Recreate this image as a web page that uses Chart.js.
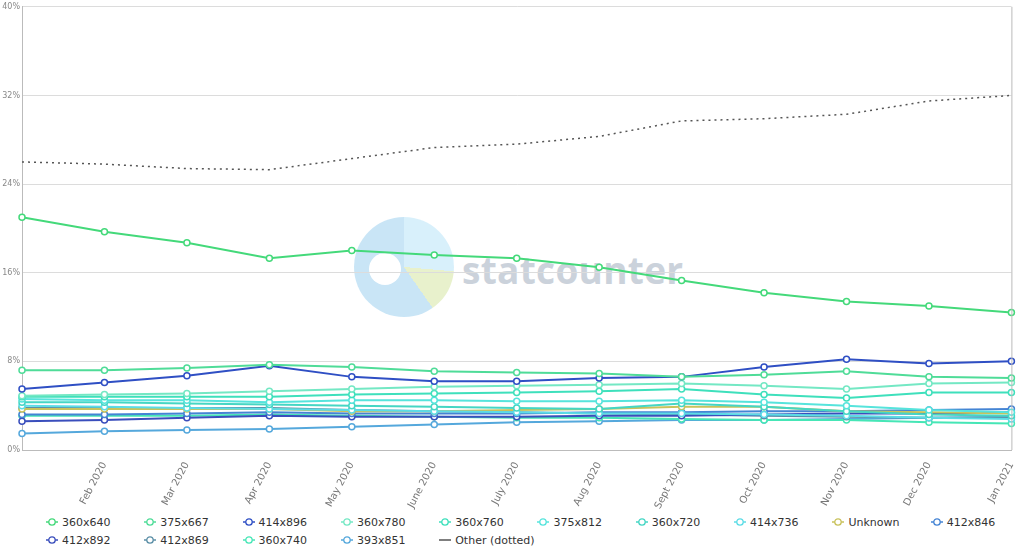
<!DOCTYPE html>
<html>
<head>
<meta charset="utf-8">
<script src="https://cdn.jsdelivr.net/npm/chart.js@4.4.0/dist/chart.umd.min.js"></script>
<style>
html,body{margin:0;padding:0;background:#fff;width:1024px;height:555px;overflow:hidden;font-family:"DejaVu Sans",sans-serif;}
#logo{position:absolute;left:354px;top:217px;width:100px;height:100px;border-radius:50%;
  background:conic-gradient(#d8f0fb 0deg 95deg,#e8f1cc 95deg 145deg,#c9e5f6 145deg 360deg);}
#logo:after{content:"";position:absolute;left:15px;top:36px;width:32px;height:32px;border-radius:50%;background:#fff;}
#brand{position:absolute;left:462px;top:244px;font-family:"Open Sans",sans-serif;font-weight:700;font-size:37px;color:#cbd2db;letter-spacing:0.3px;}
#wrap{position:absolute;left:0;top:0;width:1024px;height:512px;}
#legend{position:absolute;left:46px;top:514px;width:990px;display:grid;grid-template-columns:repeat(10,98.3px);row-gap:2px;font-size:11px;color:#333;}
#legend div{display:flex;align-items:center;height:16px;white-space:nowrap;}
#legend svg{margin-right:4px;flex:none;}
</style>
</head>
<body>
<div id="logo"></div>
<div id="brand">statcounter</div>
<div id="wrap"><canvas id="c" width="1024" height="512"></canvas></div>
<div id="legend"></div>
<script>
function byId(id){return document.getElementById(id);}

const months = ["Jan 2020","Feb 2020","Mar 2020","Apr 2020","May 2020","June 2020","July 2020","Aug 2020","Sept 2020","Oct 2020","Nov 2020","Dec 2020","Jan 2021"];
const yTicks = [0,8,16,24,32,40];

const s360x640 = [21.0,19.7,18.7,17.3,18.0,17.6,17.3,16.5,15.3,14.2,13.4,13.0,12.4];
const s375x667 = [7.2,7.2,7.4,7.7,7.5,7.1,7.0,6.9,6.6,6.8,7.1,6.6,6.5];
const s414x896 = [5.5,6.1,6.7,7.6,6.6,6.2,6.2,6.5,6.6,7.5,8.2,7.8,8.0];
const s360x780 = [4.9,5.0,5.1,5.3,5.5,5.7,5.8,5.9,6.0,5.8,5.5,6.0,6.1];
const s360x760 = [4.8,4.8,4.8,4.8,5.0,5.1,5.2,5.3,5.5,5.0,4.7,5.2,5.2];
const s375x812 = [4.6,4.5,4.5,4.3,4.5,4.5,4.4,4.4,4.5,4.3,4.0,3.6,3.4];
const s360x720 = [4.3,4.3,4.2,4.1,4.0,3.9,3.8,3.7,4.2,3.9,3.5,3.2,3.1];
const s414x736 = [4.0,3.9,3.8,3.7,3.6,3.5,3.4,3.3,3.3,3.2,3.1,2.9,2.8];
const sUnknown = [3.7,3.7,3.7,3.7,3.5,3.5,3.6,3.7,3.9,3.9,3.5,3.4,3.3];
const s412x846 = [3.2,3.2,3.3,3.4,3.3,3.3,3.3,3.4,3.4,3.5,3.5,3.6,3.7];
const s412x892 = [2.6,2.7,2.9,3.1,3.0,3.0,3.0,3.1,3.1,3.2,3.3,3.3,3.4];
const s412x869 = [3.8,3.8,3.8,3.8,3.6,3.5,3.4,3.3,3.2,3.1,3.0,2.9,2.9];
const s360x740 = [3.1,3.1,3.1,3.2,3.1,3.0,2.9,2.9,2.8,2.7,2.7,2.5,2.4];
const s393x851 = [1.5,1.7,1.8,1.9,2.1,2.3,2.5,2.6,2.7,2.7,2.8,2.9,3.0];
const sOther   = [26.0,25.8,25.4,25.3,26.3,27.3,27.6,28.3,29.7,29.9,30.3,31.5,32.0];

const series = [
  ["360x640", s360x640, "#44d97a"],
  ["375x667", s375x667, "#4fdc98"],
  ["414x896", s414x896, "#2f4fc4"],
  ["360x780", s360x780, "#74e8c4"],
  ["360x760", s360x760, "#3ee0bc"],
  ["375x812", s375x812, "#56e4dc"],
  ["360x720", s360x720, "#45d6c4"],
  ["414x736", s414x736, "#5cdce6"],
  ["Unknown", sUnknown, "#c9c25c"],
  ["412x846", s412x846, "#4584d4"],
  ["412x892", s412x892, "#3a4ebc"],
  ["412x869", s412x869, "#5a8ea6"],
  ["360x740", s360x740, "#46e6b6"],
  ["393x851", s393x851, "#55a8dc"],
  ["Other (dotted)", sOther, "#555555"]
];

const datasets = series.map(([name, vals, col]) => {
  const other = name.startsWith("Other");
  return {
    label: name, data: vals, borderColor: col, backgroundColor: col,
    borderWidth: other ? 1.5 : 2, borderDash: other ? [2,4] : [],
    pointRadius: other ? 0 : 3, pointBackgroundColor: "#fff",
    pointBorderColor: col, pointBorderWidth: 1.5, tension: 0, fill: false
  };
});

const frame = {
  id: "frame",
  afterDraw(chart){
    const {ctx, chartArea:a} = chart;
    ctx.save(); ctx.strokeStyle = "#bbb"; ctx.lineWidth = 1;
    ctx.beginPath(); ctx.moveTo(a.right+0.5, a.top); ctx.lineTo(a.right+0.5, a.bottom); ctx.stroke();
    ctx.restore();
  }
};

new Chart(byId("c"), {
  type: "line",
  data: { labels: months, datasets },
  plugins: [frame],
  options: {
    responsive: false, animation: false,
    layout: { padding: { top: 5, right: 7, left: 0, bottom: 0 } },
    plugins: { legend: { display: false }, tooltip: { enabled: false } },
    scales: {
      x: {
        offset: false, grid: { display: false }, border: { color: "#bbb" },
        ticks: { autoSkip: false, minRotation: 62, maxRotation: 62, color: "#777", font: { size: 10, family: "DejaVu Sans" }, padding: 2,
          callback: (v, i) => i === 0 ? "" : months[i] },
        afterFit(s){ s.height = 62; }
      },
      y: {
        min: 0, max: 40,
        afterBuildTicks(s){ s.ticks = yTicks.map(v => ({ value: v })); },
        ticks: { callback: v => v + "%", color: "#888", font: { size: 8, family: "DejaVu Sans" }, padding: 2 },
        grid: { color: "#dcdcdc", drawTicks: false }, border: { color: "#bbb" },
        afterFit(s){ s.width = 22; }
      }
    }
  }
});

// legend
byId("legend").innerHTML = series.map(([name, , col]) => {
  const icon = name.startsWith("Other")
    ? `<svg width="12" height="10"><line x1="0" y1="5" x2="12" y2="5" stroke="${col}" stroke-width="1.5"/></svg>`
    : `<svg width="12" height="10"><line x1="0" y1="5" x2="12" y2="5" stroke="${col}" stroke-width="1.5"/><circle cx="6" cy="5" r="3.2" fill="#fff" stroke="${col}" stroke-width="1.3"/></svg>`;
  return `<div>${icon}${name}</div>`;
}).join("");
</script>
</body>
</html>
